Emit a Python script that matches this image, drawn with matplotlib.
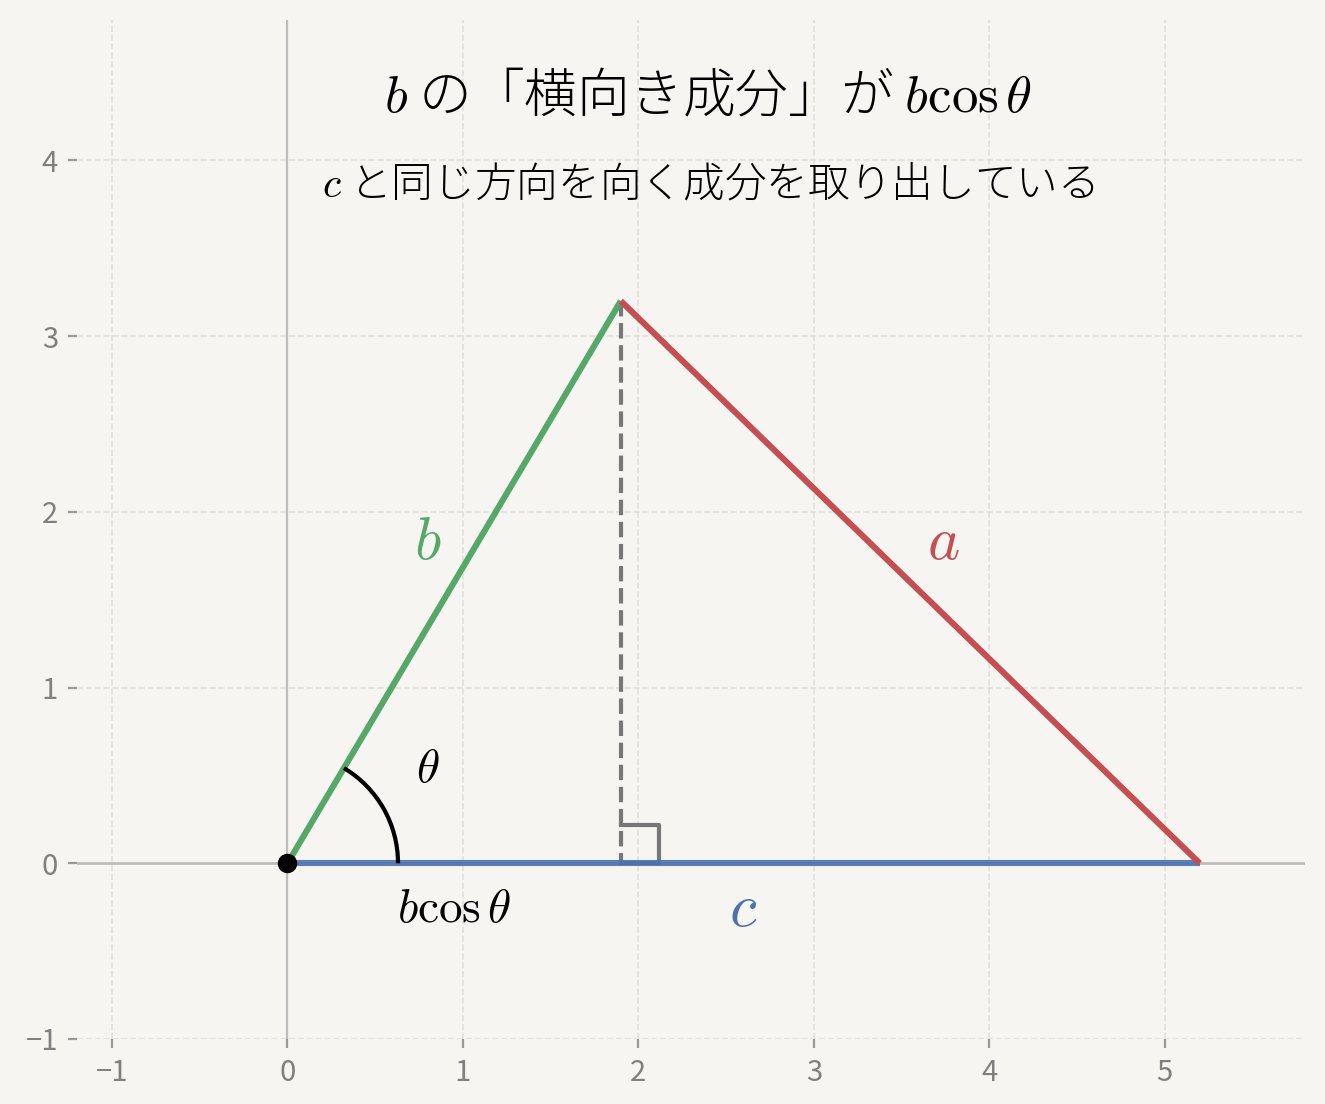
import numpy as np
import matplotlib
matplotlib.use("Agg")
import matplotlib.pyplot as plt
from matplotlib.patches import Arc

plt.rcParams["font.family"] = ["Noto Sans CJK JP", "DejaVu Sans"]
plt.rcParams["mathtext.fontset"] = "cm"

# triangle vertices
origin = [0.0, 0.0]
apex = [1.9, 3.2]
end_c = [5.2, 0.0]

xticks = [-1, 0, 1, 2, 3, 4, 5]
yticks = [-1, 0, 1, 2, 3, 4]

title_text = r"$b$ の「横向き成分」が $b\cos\theta$"
sub_text = r"$c$ と同じ方向を向く成分を取り出している"

col_a = "#c44e52"
col_b = "#55a868"
col_c = "#4c72b0"
bg = "#f7f5f2"

fig = plt.figure(figsize=(6.625, 5.52), dpi=200, facecolor=bg)
ax = fig.add_axes([0.0581, 0.0589, 0.9268, 0.9231], facecolor=bg)

ax.set_xlim(-1.2, 5.8)
ax.set_ylim(-1.0, 4.8)
ax.set_aspect("equal", adjustable="datalim")

for s in ax.spines.values():
    s.set_visible(False)
ax.set_xticks(xticks)
ax.set_yticks(yticks)
ax.tick_params(colors="#999999", labelcolor="#808080", labelsize=10.5,
               length=3.3, width=0.8)
ax.grid(True, linestyle="--", color="#e2e0dd", linewidth=0.6)
ax.set_axisbelow(True)

ax.axhline(0, color="#bdbdbd", lw=1.0, zorder=1)
ax.axvline(0, color="#bdbdbd", lw=0.8, zorder=1)

# sides
ax.plot([origin[0], end_c[0]], [origin[1], end_c[1]], color=col_c, lw=2.2,
        alpha=0.9, solid_capstyle="butt", zorder=3)
ax.plot([origin[0], apex[0]], [origin[1], apex[1]], color=col_b, lw=2.2,
        solid_capstyle="butt", zorder=4)
ax.plot([apex[0], end_c[0]], [apex[1], end_c[1]], color=col_a, lw=2.2,
        solid_capstyle="butt", zorder=4)

# perpendicular from apex
ax.plot([apex[0], apex[0]], [apex[1], 0], color="#777777", lw=1.5,
        linestyle="--", zorder=2)
sq = 0.22
ax.plot([apex[0], apex[0] + sq, apex[0] + sq, apex[0]],
        [sq, sq, 0, 0], color="#777777", lw=1.5, zorder=2)

# angle arc
theta = np.degrees(np.arctan2(apex[1], apex[0]))
ax.add_patch(Arc((0, 0), 1.26, 1.26, theta1=0, theta2=theta,
                 color="black", lw=1.5, zorder=5))
ax.plot(origin[0], origin[1], "o", color="black", ms=6, zorder=6)

# labels
ax.text(0.80, 1.83, r"$b$", color=col_b, fontsize=22, ha="center", va="center")
ax.text(3.74, 1.83, r"$a$", color=col_a, fontsize=22, ha="center", va="center")
ax.text(2.6, -0.26, r"$c$", color=col_c, fontsize=22, ha="center", va="center")
ax.text(0.80, 0.54, r"$\theta$", color="black", fontsize=17, ha="center", va="center")
ax.text(0.95, -0.26, r"$b\cos\theta$", color="black", fontsize=17,
        ha="center", va="center")

ax.text(2.4, 4.36, title_text, fontsize=19, ha="center", va="center",
        fontweight="light")
ax.text(2.4, 3.86, sub_text, fontsize=15, ha="center", va="center",
        fontweight="light")

fig.savefig("out.png", dpi=200, facecolor=bg)
